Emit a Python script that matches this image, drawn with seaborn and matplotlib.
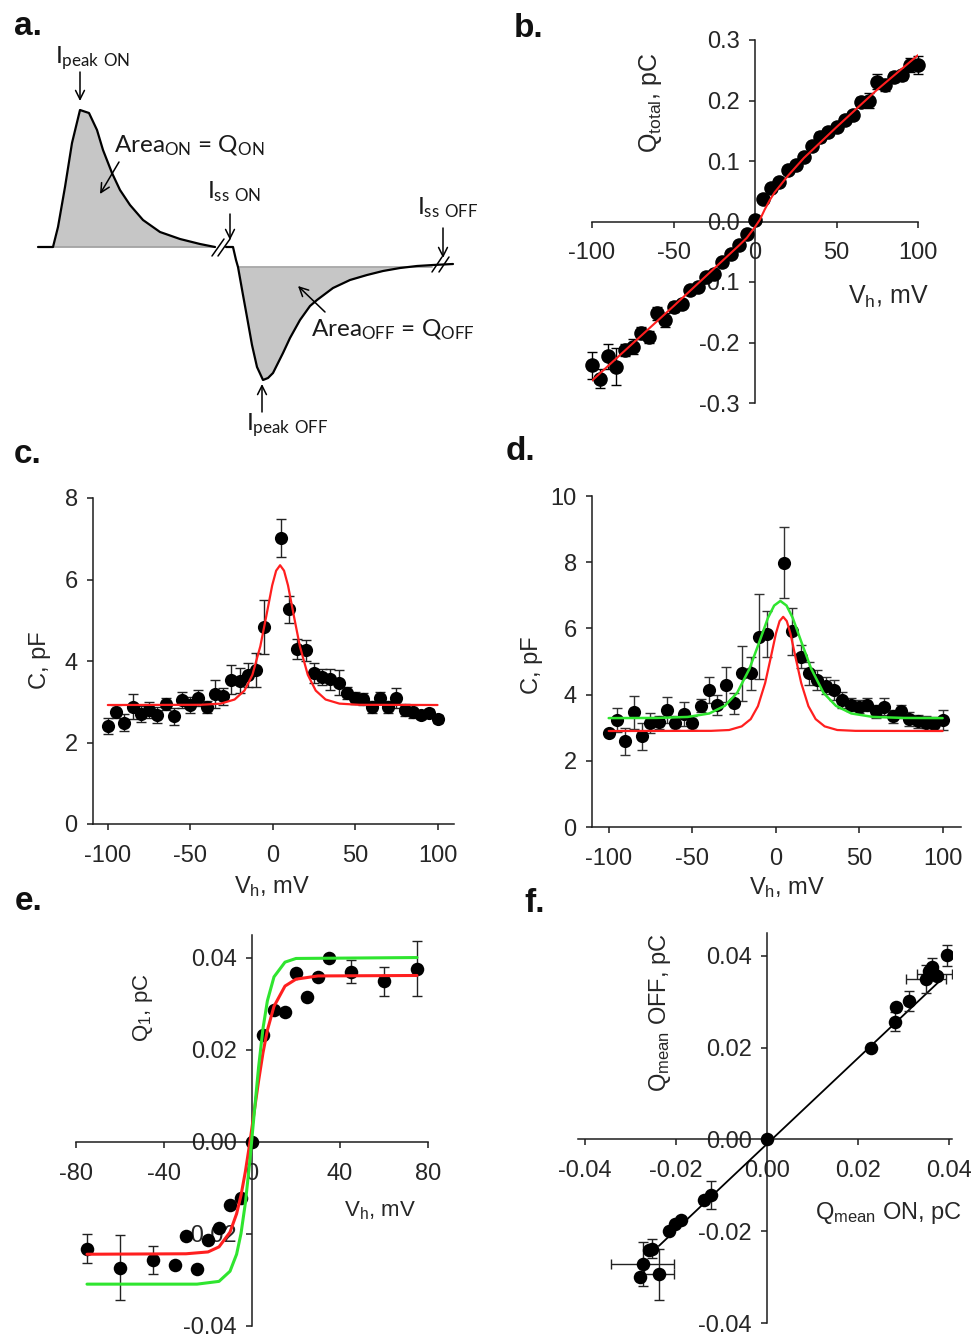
import numpy as np
import matplotlib
matplotlib.use('Agg')
import matplotlib.pyplot as plt
import seaborn as sns
from matplotlib.ticker import FormatStrFormatter

# ---------------- data ----------------
# panel a: schematic current trace (drawing units)
a_on_x = [38, 53, 58, 65, 72, 80, 89, 97, 103, 112, 120, 130, 143, 160, 180, 200, 215]
a_on_y = [247, 247, 227, 187, 143, 110, 113, 130, 150, 173, 190, 205, 220, 232, 239, 244, 247]
a_off_x = [226, 233, 236, 238, 243, 247, 252, 257, 263, 268, 273, 278, 283, 290, 300, 310,
           317, 333, 350, 367, 383, 400, 417, 433, 453]
a_off_y = [247, 247, 260, 267, 295, 317, 345, 367, 380, 378, 373, 363, 353, 338, 320, 306,
           300, 288, 280, 275, 271, 268, 266, 265, 264]
a_break_x = [[212, 224], [218, 230], [432, 442], [439, 449]]
a_break_y = [[256, 239], [256, 239], [272, 257], [272, 257]]

# panel b: total charge vs holding potential
b_v = list(range(-100, 105, 5))
b_q = [-0.238, -0.26, -0.223, -0.24, -0.213, -0.207, -0.185, -0.191, -0.152, -0.163,
       -0.141, -0.136, -0.114, -0.108, -0.092, -0.086, -0.067, -0.053, -0.039, -0.02,
       0.002, 0.038, 0.055, 0.066, 0.085, 0.093, 0.107, 0.124, 0.14, 0.148,
       0.157, 0.168, 0.176, 0.198, 0.2, 0.231, 0.226, 0.239, 0.242, 0.259, 0.259]
b_err = [0.022, 0.016, 0.021, 0.031, 0.01, 0.012, 0.01, 0.01, 0.01, 0.012,
         0.008, 0.006, 0.006, 0.005, 0.005, 0.005, 0.005, 0.005, 0.004, 0.004,
         0.004, 0.004, 0.004, 0.005, 0.005, 0.005, 0.005, 0.005, 0.008, 0.006,
         0.006, 0.006, 0.006, 0.008, 0.012, 0.012, 0.01, 0.008, 0.008, 0.012, 0.015]
b_fit_v = [-100, -50, -20, -10, -5, 0, 3, 6, 9, 12, 15, 20, 30, 50, 75, 100]
b_fit_q = [-0.263, -0.14, -0.065, -0.04, -0.027, -0.009, 0.003, 0.02, 0.035, 0.048,
           0.058, 0.075, 0.105, 0.156, 0.218, 0.275]

# panel c: capacitance
c_v = [-100, -95, -90, -85, -80, -75, -70, -65, -60, -55, -50, -45, -40, -35, -30, -25, -20, -15, -10, -5,
       5, 10, 15, 20, 25, 30, 35, 40, 45, 50, 55, 60, 65, 70, 75, 80, 85, 90, 95, 100]
c_c = [2.41, 2.76, 2.49, 2.88, 2.70, 2.80, 2.68, 2.94, 2.64, 3.05, 2.92, 3.09, 2.88, 3.19, 3.13,
       3.54, 3.52, 3.66, 3.78, 4.83,
       7.02, 5.27, 4.29, 4.26, 3.70, 3.60, 3.55, 3.47, 3.21, 3.09, 3.06, 2.88, 3.09, 2.88, 3.09,
       2.80, 2.76, 2.68, 2.72, 2.57]
c_err = [0.2, 0.15, 0.2, 0.31, 0.2, 0.2, 0.2, 0.15, 0.2, 0.2, 0.2, 0.2, 0.15, 0.34, 0.2, 0.36, 0.3,
         0.3, 0.41, 0.67,
         0.46, 0.33, 0.25, 0.25, 0.25, 0.2, 0.25, 0.3, 0.15, 0.15, 0.15, 0.15, 0.15, 0.15, 0.25,
         0.15, 0.15, 0.1, 0.1, 0.1]
c_fit_v = [-100, -43.5, -31.5, -23.1, -17.1, -12.3, -7.5, -3.9, -0.3, 2.1, 4.5, 6.9, 9.3, 12.9,
           16.5, 21.3, 26.1, 32.1, 40.5, 52.5, 100]
c_fit_c = [2.92, 2.925, 2.954, 3.055, 3.275, 3.661, 4.361, 5.097, 5.855, 6.216, 6.35, 6.216, 5.855,
           5.097, 4.361, 3.661, 3.275, 3.055, 2.954, 2.925, 2.92]

# panel d: capacitance, two fits
d_v = list(c_v)
d_c = [2.84, 3.24, 2.59, 3.46, 2.74, 3.14, 3.16, 3.54, 3.14, 3.42, 3.14, 3.66, 4.14, 3.69, 4.30,
       3.74, 4.65, 4.65, 5.75, 5.84,
       7.99, 5.91, 5.15, 4.65, 4.45, 4.27, 4.14, 3.84, 3.69, 3.64, 3.69, 3.49, 3.64, 3.34, 3.49,
       3.26, 3.19, 3.14, 3.12, 3.22]
d_err = [0.1, 0.37, 0.4, 0.51, 0.4, 0.3, 0.2, 0.4, 0.2, 0.37, 0.2, 0.2, 0.4, 0.3, 0.52, 0.32,
         0.83, 0.5, 1.29, 0.7,
         1.07, 0.7, 0.35, 0.35, 0.3, 0.25, 0.3, 0.25, 0.2, 0.2, 0.2, 0.2, 0.25, 0.2, 0.2, 0.2,
         0.2, 0.2, 0.2, 0.3]
d_red_v = [-100, -38.7, -27.9, -20.34, -14.94, -10.62, -6.3, -3.06, 0.18, 2.34, 4.5, 6.66, 8.82,
           12.06, 15.3, 19.62, 23.94, 29.34, 36.9, 47.7, 100]
d_red_c = [2.9, 2.905, 2.93, 3.04, 3.26, 3.65, 4.35, 5.09, 5.85, 6.22, 6.35, 6.22, 5.85, 5.09,
           4.35, 3.65, 3.26, 3.04, 2.93, 2.905, 2.9]
d_green_v = [-100, -71.2, -52.7, -39.75, -30.5, -23.1, -15.7, -10.15, -4.6, -0.9, 2.8, 6.5, 10.2,
             15.75, 21.3, 28.7, 36.1, 45.35, 58.3, 76.8, 100]
d_green_c = [3.29, 3.295, 3.325, 3.43, 3.66, 4.05, 4.78, 5.54, 6.32, 6.69, 6.83, 6.69, 6.32, 5.54,
             4.78, 4.05, 3.66, 3.43, 3.325, 3.295, 3.29]

# panel e: Q1 vs holding potential
e_v = [-75, -60, -45, -35, -30, -25, -20, -15, -10, -5, 0, 5, 10, 15, 20, 25, 30, 35, 45, 60, 75]
e_q = [-0.0232, -0.0273, -0.0257, -0.0267, -0.0204, -0.0277, -0.0214, -0.0186, -0.0136, -0.0121,
       0.0, 0.0232, 0.0287, 0.0283, 0.0368, 0.0316, 0.0359, 0.0399, 0.0370, 0.0349, 0.0377]
e_err = [0.0032, 0.007, 0.003, 0, 0, 0, 0, 0, 0, 0, 0, 0, 0, 0, 0, 0, 0, 0, 0.0025, 0.0031, 0.0059]
e_red_v = [-75, -30, -20, -15, -10, -7, -5, -3, -1, 1, 3, 5, 7, 10, 15, 20, 30, 75]
e_red_q = [-0.0244, -0.0243, -0.0239, -0.0228, -0.0196, -0.0156, -0.0116, -0.0064, -0.0002,
           0.0066, 0.0133, 0.0194, 0.0243, 0.0295, 0.0339, 0.0354, 0.0361, 0.0362]
e_green_v = [-75, -25, -15, -10, -7, -5, -3, -1, 1, 3, 5, 7, 10, 15, 20, 75]
e_green_q = [-0.0309, -0.0309, -0.0303, -0.0281, -0.0244, -0.0199, -0.0132, -0.0042, 0.0062,
             0.0163, 0.0247, 0.0307, 0.0359, 0.0391, 0.0399, 0.0401]

# panel f: Q OFF vs Q ON
f_on = [0.0, 0.0229, 0.0282, 0.0284, 0.0312, 0.0350, 0.0357, 0.0368, 0.0375, 0.0362, 0.0395,
        -0.0124, -0.0139, -0.0190, -0.0203, -0.0216, -0.0254, -0.0260, -0.0274, -0.0280, -0.0238]
f_off = [0.0, 0.0199, 0.0257, 0.0289, 0.0301, 0.0350, 0.0368, 0.0360, 0.0357, 0.0375, 0.0401,
         -0.0121, -0.0131, -0.0176, -0.0185, -0.0200, -0.0238, -0.0241, -0.0272, -0.0300, -0.0294]
f_xerr = [0, 0, 0, 0, 0, 0.0044, 0, 0.0038, 0, 0, 0,
          0, 0, 0, 0, 0, 0, 0, 0.007, 0, 0.0033]
f_yerr = [0, 0, 0.002, 0, 0.0022, 0.0031, 0, 0, 0, 0.002, 0.0023,
          0.003, 0, 0, 0, 0, 0.002, 0, 0.0048, 0, 0.0055]
f_line_x = [-0.0238, 0.0387]
f_line_y = [-0.0232, 0.0352]

# ---------------- style ----------------
sns.set_style('ticks')
plt.rcParams['font.family'] = ['Liberation Sans', 'DejaVu Sans']
plt.rcParams['axes.unicode_minus'] = False
plt.rcParams['mathtext.fontset'] = 'custom'
plt.rcParams['mathtext.rm'] = 'Liberation Sans'
plt.rcParams['mathtext.default'] = 'regular'

AXC = '#1c1c1c'
TXT = '#262626'
RED = '#ff1f1f'
GREEN = '#2fe52f'
W, H = 971, 1340

fig = plt.figure(figsize=(W / 100, H / 100), dpi=100)
fig.patch.set_facecolor('white')


def px_axes(x0, y0, x1, y1):
    return fig.add_axes([x0 / W, 1 - y1 / H, (x1 - x0) / W, (y1 - y0) / H])


def style(ax, zero=False, fs=17):
    ax.set_facecolor('none')
    for s in ['top', 'right']:
        ax.spines[s].set_visible(False)
    for s in ['left', 'bottom']:
        ax.spines[s].set_color(AXC)
        ax.spines[s].set_linewidth(1.1)
    if zero:
        ax.spines['left'].set_position(('data', 0))
        ax.spines['bottom'].set_position(('data', 0))
    ax.tick_params(direction='out', length=4, width=1.1, color=AXC,
                   labelsize=fs, labelcolor=TXT)
    ax.tick_params(axis='x', pad=11)
    ax.tick_params(axis='y', pad=7)


def line(ax, x, y, **kw):
    sns.lineplot(x=x, y=y, ax=ax, sort=False, estimator=None, legend=False, **kw)


def labels(ax, xl, xc, yl, yc, fs=17):
    ax.set_xlabel(xl, fontsize=fs, color=TXT, va='center', ha='center')
    ax.set_ylabel(yl, fontsize=fs, color=TXT, va='center', ha='center')
    ax.xaxis.set_label_coords(*xc)
    ax.yaxis.set_label_coords(*yc)


def panel_letter(x, y, s):
    fig.text(x / W, 1 - y / H, s, fontsize=24, fontweight='bold', va='baseline',
             ha='left', color='#111111')


# ---------------- panel a ----------------
axA = fig.add_axes([0, 1 - 450 / H, 500 / W, 450 / H])
axA.set_xlim(0, 500)
axA.set_ylim(450, 0)
axA.axis('off')
GR = '#c6c6c6'
axA.fill_between(a_on_x[1:], a_on_y[1:], 247, color=GR, lw=0, zorder=1)
off_y = np.array(a_off_y)
axA.fill_between(a_off_x, a_off_y, 267, where=off_y >= 267, interpolate=True,
                 color=GR, lw=0, zorder=1)
axA.plot([53, 215], [247, 247], color='#a0a0a0', lw=1.2, zorder=2)
axA.plot([238, 432], [267, 267], color='#a0a0a0', lw=1.2, zorder=2)
line(axA, a_on_x, a_on_y, color='black', lw=1.6, zorder=3)
line(axA, a_off_x, a_off_y, color='black', lw=1.6, zorder=3)
for bx, by in zip(a_break_x, a_break_y):
    axA.plot(bx, by, color='black', lw=1.1, zorder=4)

afs = 17.5
akw = dict(fontsize=afs, family=['Lato', 'DejaVu Sans'], color='#1a1a1a', va='baseline', ha='left')
axA.text(55, 63, 'I$_{peak\\ ON}$', **akw)
axA.text(114, 152, 'Area$_{ON}$ = Q$_{ON}$', **akw)
axA.text(207, 198, 'I$_{ss\\ ON}$', **akw)
axA.text(417, 214, 'I$_{ss\\ OFF}$', **akw)
axA.text(311, 336, 'Area$_{OFF}$ = Q$_{OFF}$', **akw)
axA.text(246, 430, 'I$_{peak\\ OFF}$', **akw)
arr = dict(arrowstyle='->', lw=1.1, color='black', mutation_scale=16, shrinkA=0, shrinkB=0)
axA.annotate('', xy=(80, 101), xytext=(80, 72), arrowprops=arr)
axA.annotate('', xy=(100, 194), xytext=(119, 162), arrowprops=arr)
axA.annotate('', xy=(230, 240), xytext=(230, 214), arrowprops=arr)
axA.annotate('', xy=(443, 258), xytext=(443, 228), arrowprops=arr)
axA.annotate('', xy=(298, 286), xytext=(325, 312), arrowprops=arr)
axA.annotate('', xy=(262, 384), xytext=(262, 412), arrowprops=arr)

# ---------------- panel b ----------------
axB = px_axes(592, 40, 918, 403)
style(axB, zero=True, fs=17)
axB.errorbar(b_v, b_q, yerr=b_err, fmt='none', ecolor='black', elinewidth=1,
             capsize=3.5, capthick=1, zorder=2, clip_on=False)
sns.scatterplot(x=b_v, y=b_q, ax=axB, color='black', s=110, linewidth=0, zorder=3, clip_on=False)
line(axB, b_fit_v, b_fit_q, color=RED, lw=1.5, zorder=4)
axB.set_xlim(-100, 100)
axB.set_ylim(-0.3, 0.3)
axB.set_xticks([-100, -50, 0, 50, 100])
axB.set_yticks([-0.3, -0.2, -0.1, 0.0, 0.1, 0.2, 0.3])
axB.yaxis.set_major_formatter(FormatStrFormatter('%.1f'))
labels(axB, 'V$_{h}$, mV', (0.908, 0.292), 'Q$_{total}$, pC', (0.178, 0.826), fs=18)

# ---------------- panel c ----------------
axC = px_axes(93, 498, 454, 824)
style(axC, fs=17)
axC.errorbar(c_v, c_c, yerr=c_err, fmt='none', ecolor='#222222', elinewidth=1,
             capsize=3.5, capthick=1, zorder=2)
sns.scatterplot(x=c_v, y=c_c, ax=axC, color='black', s=90, linewidth=0, zorder=3)
line(axC, c_fit_v, c_fit_c, color=RED, lw=1.6, zorder=4)
axC.set_xlim(-109, 110)
axC.set_ylim(0, 8)
axC.set_xticks([-100, -50, 0, 50, 100])
axC.set_yticks([0, 2, 4, 6, 8])
labels(axC, 'V$_{h}$, mV', (0.496, -0.193), 'C, pF', (-0.147, 0.503))

# ---------------- panel d ----------------
axD = px_axes(592, 496, 961, 827)
style(axD, fs=17)
axD.errorbar(d_v, d_c, yerr=d_err, fmt='none', ecolor='#333333', elinewidth=1,
             capsize=3.5, capthick=1, zorder=2)
sns.scatterplot(x=d_v, y=d_c, ax=axD, color='black', s=90, linewidth=0, zorder=3)
line(axD, d_red_v, d_red_c, color=RED, lw=1.6, zorder=4)
line(axD, d_green_v, d_green_c, color=GREEN, lw=1.8, zorder=4)
axD.set_xlim(-110, 111)
axD.set_ylim(0, 10)
axD.set_xticks([-100, -50, 0, 50, 100])
axD.set_yticks([0, 2, 4, 6, 8, 10])
labels(axD, 'V$_{h}$, mV', (0.528, -0.184), 'C, pF', (-0.163, 0.49))

# ---------------- panel e ----------------
axE = px_axes(76, 935, 428, 1326)
style(axE, zero=True, fs=17)
axE.errorbar(e_v, e_q, yerr=e_err, fmt='none', ecolor='#222222', elinewidth=1,
             capsize=3.5, capthick=1, zorder=2)
sns.scatterplot(x=e_v, y=e_q, ax=axE, color='black', s=95, linewidth=0, zorder=3)
line(axE, e_red_v, e_red_q, color=RED, lw=2.2, zorder=4)
line(axE, e_green_v, e_green_q, color=GREEN, lw=2.2, zorder=4)
axE.set_xlim(-80, 80)
axE.set_ylim(-0.04, 0.045)
axE.set_xticks([-80, -40, 0, 40, 80])
axE.set_yticks([-0.04, -0.02, 0.0, 0.02, 0.04])
axE.yaxis.set_major_formatter(FormatStrFormatter('%.2f'))
labels(axE, 'V$_{h}$, mV', (0.864, 0.295), 'Q$_{1}$, pC', (0.19, 0.814), fs=16)

# ---------------- panel f ----------------
axF = px_axes(578, 933, 952, 1323)
style(axF, zero=True, fs=17)
line(axF, f_line_x, f_line_y, color='black', lw=1.3, zorder=2)
axF.errorbar(f_on, f_off, xerr=f_xerr, yerr=f_yerr, fmt='none', ecolor='#222222',
             elinewidth=1, capsize=3.5, capthick=1, zorder=2.5)
sns.scatterplot(x=f_on, y=f_off, ax=axF, color='black', s=95, linewidth=0, zorder=3)
axF.set_xlim(-0.0416, 0.0407)
axF.set_ylim(-0.04, 0.045)
axF.set_xticks([-0.04, -0.02, 0.0, 0.02, 0.04])
axF.set_yticks([-0.04, -0.02, 0.0, 0.02, 0.04])
axF.xaxis.set_major_formatter(FormatStrFormatter('%.2f'))
axF.yaxis.set_major_formatter(FormatStrFormatter('%.2f'))
labels(axF, 'Q$_{mean}$ ON, pC', (0.829, 0.282), 'Q$_{mean}$ OFF, pC', (0.219, 0.795))

# ---------------- panel letters ----------------
panel_letter(14, 35, 'a.')
panel_letter(514, 37, 'b.')
panel_letter(14, 463, 'c.')
panel_letter(506, 460, 'd.')
panel_letter(15, 910, 'e.')
panel_letter(524, 912, 'f.')

fig.savefig('out.png', dpi=100, facecolor='white')
